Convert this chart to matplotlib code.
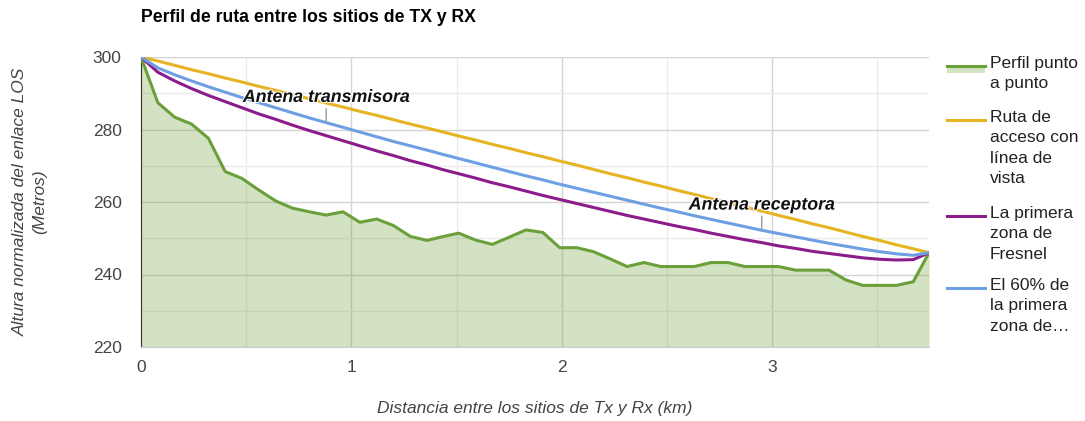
import matplotlib.pyplot as plt
import matplotlib.patheffects as pe
from matplotlib.lines import Line2D

plt.rcParams['font.family'] = ['Liberation Sans', 'DejaVu Sans']

# distance along the path (km)
dist = [0, 0.08, 0.16, 0.24, 0.32, 0.40, 0.48, 0.56, 0.64, 0.72, 0.80, 0.88,
        0.96, 1.04, 1.12, 1.20, 1.28, 1.36, 1.43, 1.51, 1.59, 1.67, 1.75, 1.83,
        1.91, 1.99, 2.07, 2.15, 2.23, 2.31, 2.39, 2.47, 2.55, 2.63, 2.71, 2.79,
        2.87, 2.95, 3.03, 3.11, 3.19, 3.27, 3.35, 3.43, 3.51, 3.59, 3.67, 3.745]

# terrain profile (m)
perfil = [300, 287.4, 283.4, 281.5, 277.6, 268.4, 266.5, 263.3, 260.3, 258.3,
          257.3, 256.4, 257.3, 254.4, 255.3, 253.5, 250.5, 249.4, 250.4, 251.4,
          249.5, 248.3, 250.3, 252.3, 251.6, 247.4, 247.4, 246.3, 244.3, 242.2,
          243.3, 242.2, 242.2, 242.2, 243.3, 243.3, 242.2, 242.2, 242.2, 241.2,
          241.2, 241.2, 238.5, 237.0, 237.0, 237.0, 238.0, 246]

# line of sight
los = [300, 298.9, 297.7, 296.5, 295.4, 294.2, 293.1, 291.9, 290.8, 289.6,
       288.5, 287.3, 286.2, 285.0, 283.9, 282.7, 281.5, 280.4, 279.4, 278.2,
       277.1, 275.9, 274.8, 273.6, 272.5, 271.3, 270.2, 269.0, 267.8, 266.7,
       265.5, 264.4, 263.2, 262.1, 260.9, 259.8, 258.6, 257.5, 256.3, 255.2,
       254.0, 252.9, 251.7, 250.5, 249.4, 248.2, 247.1, 246]

# first Fresnel zone (lower edge)
fresnel = [300, 295.8, 293.4, 291.3, 289.4, 287.7, 286.0, 284.3, 282.8, 281.2,
           279.7, 278.3, 276.9, 275.5, 274.1, 272.8, 271.4, 270.2, 269.0, 267.8,
           266.6, 265.3, 264.2, 263.0, 261.8, 260.7, 259.6, 258.5, 257.4, 256.3,
           255.3, 254.3, 253.3, 252.4, 251.4, 250.5, 249.6, 248.8, 247.9, 247.2,
           246.4, 245.8, 245.2, 244.6, 244.2, 244.0, 244.1, 246]

# 60% of first Fresnel zone
fresnel60 = [300, 297.0, 295.1, 293.4, 291.8, 290.3, 288.8, 287.4, 286.0, 284.6,
             283.2, 281.9, 280.6, 279.3, 278.0, 276.7, 275.5, 274.3, 273.2, 272.0,
             270.8, 269.6, 268.4, 267.2, 266.1, 264.9, 263.8, 262.7, 261.6, 260.5,
             259.4, 258.3, 257.3, 256.2, 255.2, 254.2, 253.2, 252.2, 251.3, 250.4,
             249.5, 248.6, 247.8, 247.0, 246.3, 245.7, 245.3, 246]

labels = ['Perfil punto\na punto', 'Ruta de\nacceso con\nlínea de\nvista',
          'La primera\nzona de\nFresnel', 'El 60% de\nla primera\nzona de…']
colors = ['#6b9f3a', '#e6b422', '#8c1c8c', '#6d9fe3']

fig = plt.figure(figsize=(10.85, 4.21), dpi=100)
ax = fig.add_axes([141/1085, 1-347/421, 788/1085, 290/421])

ax.fill_between(dist, perfil, 220, color=colors[0], alpha=0.3, lw=0, zorder=2)
ax.plot(dist, perfil, color=colors[0], lw=2.2, zorder=3)
ax.plot(dist, los, color=colors[1], lw=2.2, zorder=3)
ax.plot(dist, fresnel, color=colors[2], lw=2.2, zorder=3)
ax.plot(dist, fresnel60, color=colors[3], lw=2.2, zorder=3)

ax.set_xlim(0, 3.745)
ax.set_ylim(220, 300)
ax.set_xticks([0, 1, 2, 3])
ax.set_yticks([220, 240, 260, 280, 300])
ax.set_xticks([0.5, 1.5, 2.5, 3.5], minor=True)
ax.set_yticks([230, 250, 270, 290], minor=True)
ax.grid(True, which='major', color='#d4d4d4', lw=1, zorder=1)
ax.grid(True, which='minor', color='#ebebeb', lw=1, zorder=1)
ax.tick_params(which='both', length=0, labelsize=12.5, colors='#444444')
ax.tick_params(axis='x', pad=9)
ax.tick_params(axis='y', pad=14)
for s in ['top', 'right']:
    ax.spines[s].set_visible(False)
ax.spines['left'].set_color('#333333')
ax.spines['bottom'].set_color('#cccccc')

# annotations on the 60% series
halo = [pe.withStroke(linewidth=1.5, foreground='white')]
for i, txt in [(11, 'Antena transmisora'), (37, 'Antena receptora')]:
    ax.annotate(txt, xy=(dist[i], fresnel60[i]), xytext=(0, 12),
                textcoords='offset points', ha='center', va='bottom',
                fontsize=12.8, fontweight='bold', fontstyle='italic',
                color='#111111', path_effects=halo,
                arrowprops=dict(arrowstyle='-', color='#999999', lw=1,
                                shrinkA=0, shrinkB=0), zorder=5)

fig.text(141/1085, 1-17/421, 'Perfil de ruta entre los sitios de TX y RX',
         fontsize=12.7, fontweight='bold', va='center', ha='left', color='#000000')
fig.text(535/1085, 1-408/421, 'Distancia entre los sitios de Tx y Rx (km)',
         fontsize=12.5, fontstyle='italic', color='#444444', ha='center', va='center')
fig.text(30/1085, 1-202/421, 'Altura normalizada del enlace LOS\n(Metros)',
         fontsize=12.5, fontstyle='italic', color='#444444', ha='center',
         va='center', rotation=90, linespacing=1.3)

# legend on the right
tops = [66, 120, 216, 288]
for lab, col, t in zip(labels, colors, tops):
    y = 1 - t/421
    if col == colors[0]:
        fig.patches.append(plt.Rectangle((947/1085, y - 7/421), 38/1085, 7/421,
                                         transform=fig.transFigure,
                                         color=col, alpha=0.3, lw=0))
    fig.add_artist(Line2D([947/1085, 985/1085], [y, y], color=col, lw=2.2,
                          transform=fig.transFigure))
    fig.text(990/1085, y + 10/421, lab, fontsize=12.5, color='#222222',
             ha='left', va='top', linespacing=1.45)

fig.savefig('out.png', dpi=100)
